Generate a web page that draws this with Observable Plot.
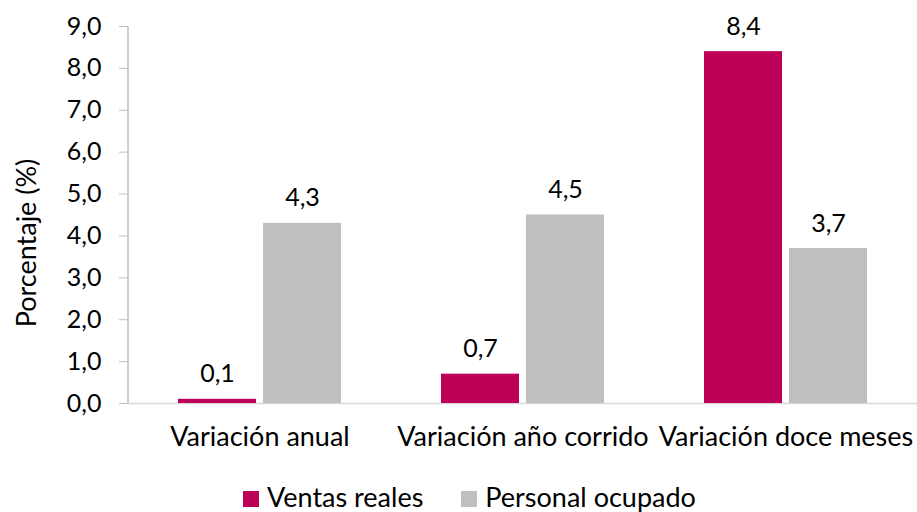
<!DOCTYPE html>
<html><head><meta charset="utf-8">
<script src="https://cdn.jsdelivr.net/npm/d3@7"></script>
<script src="https://cdn.jsdelivr.net/npm/@observablehq/plot@0.6"></script>
<style>
body{margin:0;background:#fff;font-family:Lato, "Open Sans", sans-serif;color:#000}
#wrap{position:relative;width:917px;height:512px;overflow:hidden}
#ylab{position:absolute;left:25px;top:243px;transform:translate(-50%,-50%) rotate(-90deg);font-size:27px;white-space:nowrap;line-height:1}
#legend{position:absolute;left:243px;top:481px;display:flex;gap:38px;font-size:27px;line-height:32px}
#legend span.item{display:flex;align-items:center;gap:8px}
#legend span.sw{display:inline-block;width:16px;height:16px;margin-top:4px}
.num text{font-size:25px}
</style></head><body>
<div id="wrap"><div id="chart"></div><div id="ylab">Porcentaje (%)</div><div id="legend"></div></div>
<script>
const categories = ["Variación anual", "Variación año corrido", "Variación doce meses"];
const series = ["Ventas reales", "Personal ocupado"];
const ventasReales = [0.1, 0.7, 8.4];
const personalOcupado = [4.3, 4.5, 3.7];
const yTicks = [0, 1, 2, 3, 4, 5, 6, 7, 8, 9];
const colors = ["#BC0057", "#BFBFBF"];

const data = categories.flatMap((c, i) => [
  {cat: c, serie: series[0], value: ventasReales[i]},
  {cat: c, serie: series[1], value: personalOcupado[i]}
]);
const fmt = v => v.toFixed(1).replace(".", ",");

const chart = Plot.plot({
  width: 917, height: 475,
  marginLeft: 128, marginRight: 0, marginTop: 26, marginBottom: 72,
  style: {fontFamily: "Lato, 'Open Sans', sans-serif", fontSize: "27px", color: "#000", background: "#fff", overflow: "visible"},
  fx: {domain: categories, padding: 0, label: null, axis: "bottom", tickSize: 0, tickPadding: 23},
  x: {domain: series, paddingInner: 0.082, paddingOuter: 0.588, axis: null},
  y: {domain: [0, 9], axis: null},
  color: {domain: series, range: colors},
  marks: [
    Plot.axisY({ticks: yTicks, tickFormat: fmt, tickSize: 9, tickPadding: 18, label: null, stroke: "#BFBFBF", fill: "#000", fontSize: 25, className: "num"}),
    Plot.ruleY([0], {stroke: "#D9D9D9", strokeWidth: 1.5}),
    Plot.barY(data, {fx: "cat", x: "serie", y: "value", fill: "serie"}),
    Plot.text(data, {fx: "cat", x: "serie", y: "value", text: d => fmt(d.value), lineAnchor: "bottom", dy: -17, fill: "#000", fontSize: 25})
  ]
});
document.getElementById("chart").appendChild(chart);

// y axis domain line drawn from the y scale
const ys = chart.scale("y");
const ns = "http://www.w3.org/2000/svg";
const ln = document.createElementNS(ns, "line");
ln.setAttribute("x1", 128); ln.setAttribute("x2", 128);
ln.setAttribute("y1", ys.range[0]); ln.setAttribute("y2", ys.range[1]);
ln.setAttribute("stroke", "#BFBFBF"); ln.setAttribute("stroke-width", 1.5);
chart.appendChild(ln);

const leg = document.getElementById("legend");
series.forEach((s, i) => {
  const it = document.createElement("span"); it.className = "item";
  const sw = document.createElement("span"); sw.className = "sw"; sw.style.background = colors[i];
  const tx = document.createElement("span"); tx.textContent = s;
  it.appendChild(sw); it.appendChild(tx); leg.appendChild(it);
});
</script>
</body></html>
